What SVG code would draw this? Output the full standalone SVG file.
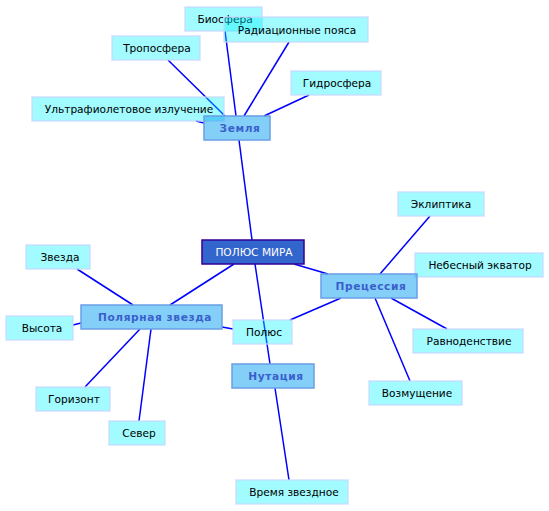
<svg xmlns="http://www.w3.org/2000/svg" width="549" height="511" viewBox="0 0 549 511">
<style>
text{font-family:"DejaVu Sans","Liberation Sans",sans-serif;font-size:10.6px;text-anchor:middle}
.leaf rect{fill:#00f5ff;fill-opacity:0.37;stroke:#c8d8ff;stroke-width:1.5;stroke-opacity:0.8}
.leaf text{fill:#000}
.main rect{fill:#0aa0f0;fill-opacity:0.5;stroke:#6a9fe8;stroke-width:1.5}
.main text{fill:#3a5fcd;font-weight:bold;letter-spacing:0.6px}
.root rect{fill:#3366cc;stroke:#330099;stroke-width:1.5}
.root text{fill:#fff}
#connectors line{stroke:#0000ff;stroke-width:1.5}
</style>
<rect width="549" height="511" fill="#fff"/>
<g id="connectors">
<line x1="168" y1="60" x2="225" y2="116"/>
<line x1="225" y1="31" x2="236" y2="116"/>
<line x1="289" y1="42" x2="244" y2="116"/>
<line x1="309" y1="95" x2="264" y2="116"/>
<line x1="196" y1="121" x2="204" y2="123"/>
<line x1="239" y1="140" x2="252" y2="240"/>
<line x1="294" y1="264" x2="328" y2="274"/>
<line x1="234" y1="264" x2="170" y2="305"/>
<line x1="255" y1="264" x2="270" y2="364"/>
<line x1="275" y1="388" x2="289" y2="480"/>
<line x1="430" y1="216" x2="380" y2="274"/>
<line x1="341" y1="298" x2="290" y2="320"/>
<line x1="391" y1="298" x2="447" y2="329"/>
<line x1="375" y1="298" x2="410" y2="381"/>
<line x1="77" y1="269" x2="133" y2="305"/>
<line x1="73" y1="325" x2="81" y2="323"/>
<line x1="222" y1="327" x2="233" y2="329"/>
<line x1="140" y1="329" x2="85" y2="387"/>
<line x1="151" y1="329" x2="139" y2="421"/>
</g>
<g id="n-biosfera" class="leaf"><rect x="185" y="7" width="77" height="24"/><text x="225" y="23">Биосфера</text></g>
<g id="n-radiation" class="leaf"><rect x="224" y="17" width="144" height="25"/><text x="297" y="34">Радиационные пояса</text></g>
<g id="n-troposfera" class="leaf"><rect x="112" y="36" width="88" height="24"/><text x="157" y="52">Тропосфера</text></g>
<g id="n-gidrosfera" class="leaf"><rect x="291" y="71" width="90" height="24"/><text x="337" y="87">Гидросфера</text></g>
<g id="n-uv" class="leaf"><rect x="32" y="97" width="192" height="24"/><text x="129" y="113">Ультрафиолетовое излучение</text></g>
<g id="n-zemlya" class="main"><rect x="204" y="116" width="66" height="24"/><text x="240" y="132">Земля</text></g>
<g id="n-root" class="root"><rect x="202" y="240" width="102" height="24"/><text x="254" y="256">ПОЛЮС МИРА</text></g>
<g id="n-ekliptika" class="leaf"><rect x="398" y="192" width="86" height="24"/><text x="441" y="208">Эклиптика</text></g>
<g id="n-ekvator" class="leaf"><rect x="415" y="253" width="128" height="24"/><text x="480" y="269">Небесный экватор</text></g>
<g id="n-precessiya" class="main"><rect x="321" y="274" width="96" height="24"/><text x="371" y="290">Прецессия</text></g>
<g id="n-zvezda" class="leaf"><rect x="26" y="245" width="64" height="24"/><text x="60" y="261">Звезда</text></g>
<g id="n-polyarnaya" class="main"><rect x="81" y="305" width="141" height="24"/><text x="155" y="321">Полярная звезда</text></g>
<g id="n-vysota" class="leaf"><rect x="6" y="316" width="67" height="24"/><text x="42" y="332">Высота</text></g>
<g id="n-polyus" class="leaf"><rect x="233" y="320" width="59" height="24"/><text x="264" y="336">Полюс</text></g>
<g id="n-ravnodenstvie" class="leaf"><rect x="413" y="329" width="110" height="24"/><text x="469" y="345">Равноденствие</text></g>
<g id="n-nutaciya" class="main"><rect x="232" y="364" width="82" height="24"/><text x="276" y="380">Нутация</text></g>
<g id="n-vozmushchenie" class="leaf"><rect x="369" y="381" width="93" height="24"/><text x="417" y="397">Возмущение</text></g>
<g id="n-gorizont" class="leaf"><rect x="36" y="387" width="74" height="24"/><text x="74" y="403">Горизонт</text></g>
<g id="n-sever" class="leaf"><rect x="109" y="421" width="56" height="24"/><text x="139" y="437">Север</text></g>
<g id="n-vremya" class="leaf"><rect x="236" y="480" width="112" height="24"/><text x="294" y="496">Время звездное</text></g>
</svg>
